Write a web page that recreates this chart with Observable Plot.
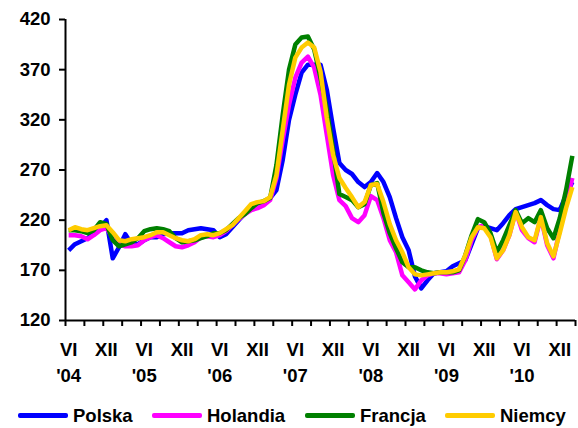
<!DOCTYPE html>
<html>
<head>
<meta charset="utf-8">
<script src="https://cdn.jsdelivr.net/npm/d3@7"></script>
<script src="https://cdn.jsdelivr.net/npm/@observablehq/plot@0.6"></script>
<style>
  html, body { margin: 0; padding: 0; background: #fff; }
  body { width: 578px; height: 428px; overflow: hidden; font-family: "Liberation Sans", Arial, sans-serif; }
  #legend { position: relative; height: 33px; margin-top: 4px; font-weight: bold; font-size: 18.5px; color: #000; }
  #legend .item { position: absolute; top: 0; height: 33px; display: flex; align-items: center; gap: 5px; white-space: nowrap; }
  #legend .sw { width: 50px; height: 4.5px; border-radius: 2px; }
</style>
</head>
<body>
<div id="chart"></div>
<div id="legend"></div>
<script>
// Monthly index 0 = June 2004 ... 80 = February 2011
const seriesNames = ["Polska", "Holandia", "Francja", "Niemcy"];
const seriesColors = ["#0000FF", "#FF00FF", "#008000", "#FFCC00"];

const polska = [190,196,199,202,207,213,220,182,193,206,196,196,200,203,203,206,207,207,207,210,
  211,212,211,210,203,206,213,220,227,233,236,237,242,250,280,320,345,367,375,375,
  375,350,312,277,270,266,258,253,258,267,258,243,222,203,190,164,152,160,167,168,
  169,174,177,180,196,212,214,212,210,217,225,231,233,235,237,240,235,231,230,245,258];
const holandia = [205,205,204,201,205,210,212,203,196,194,194,195,200,203,205,202,198,194,193,195,
  198,203,204,203,205,209,215,221,226,230,232,235,240,262,300,335,362,377,383,372,
  345,305,265,240,234,222,218,225,244,240,222,200,188,165,158,151,160,165,167,167,
  166,167,168,180,200,213,215,205,181,190,205,229,210,202,198,223,195,182,210,237,262];
const francja = [210,210,209,207,210,218,216,200,194,196,198,202,209,211,212,211,209,202,198,199,
  200,202,204,207,207,210,216,222,226,232,237,239,242,275,325,370,395,402,403,390,
  362,330,290,246,243,240,233,236,255,257,227,207,192,178,173,173,170,168,167,168,
  168,168,170,185,205,221,218,207,188,200,215,230,217,222,218,230,212,202,222,250,284];
const niemcy = [210,213,211,210,212,214,215,208,200,199,201,202,203,205,208,208,205,202,200,199,
  201,205,206,205,207,211,215,222,229,236,238,239,243,265,310,355,382,392,397,392,
  368,322,285,262,252,243,233,238,255,256,238,216,200,188,173,166,165,166,167,168,
  168,169,171,185,203,213,212,203,182,190,205,228,213,203,200,223,197,184,207,232,253];

const yTicks = [120, 170, 220, 270, 320, 370, 420];
const monthLabels = ["VI","XII","VI","XII","VI","XII","VI","XII","VI","XII","VI","XII","VI","XII"];
const yearLabels = ["'04","","'05","","'06","","'07","","'08","","'09","","'10",""];

const allValues = [polska, holandia, francja, niemcy];
const rows = [];
seriesNames.forEach((name, s) => {
  allValues[s].forEach((v, i) => rows.push({series: name, i, value: v}));
});

const labelPos = monthLabels.map((_, k) => k * 6);
const tickPos = d3.range(0, 28).map(k => k * 3 - 0.5);

const fontStyle = {fontSize: 18.5, fontWeight: "bold"};

const chart = Plot.plot({
  width: 578,
  height: 395,
  marginTop: 19,
  marginBottom: 75,
  marginLeft: 65,
  marginRight: 3,
  style: {fontFamily: "Liberation Sans, Arial, sans-serif", fontSize: "18.5px", fontWeight: "bold", color: "#000", background: "#fff"},
  x: {domain: [-0.5, 80.5]},
  y: {domain: [120, 420]},
  color: {domain: seriesNames, range: seriesColors},
  marks: [
    Plot.axisY(yTicks, {tickSize: 6, tickPadding: 9, strokeWidth: 2, label: null, ...fontStyle}),
    Plot.axisX(tickPos, {tickSize: 6, strokeWidth: 2, tickFormat: () => "", label: null}),
    Plot.axisX(labelPos, {tickSize: 0, tickPadding: 22, tickFormat: d => monthLabels[d / 6], label: null, ...fontStyle}),
    Plot.axisX(labelPos, {tickSize: 0, tickPadding: 48, tickFormat: d => yearLabels[d / 6], label: null, ...fontStyle}),
    Plot.line(rows, {x: "i", y: "value", z: "series", stroke: "series", strokeWidth: 4.5, strokeLinejoin: "round", strokeLinecap: "butt"}),
    Plot.ruleX([-0.5], {stroke: "#000", strokeWidth: 2}),
    Plot.ruleY([120], {stroke: "#000", strokeWidth: 2})
  ]
});
document.getElementById("chart").appendChild(chart);

const legendLeft = [18, 152, 305, 445];
const legend = document.getElementById("legend");
seriesNames.forEach((name, s) => {
  const item = document.createElement("div");
  item.className = "item";
  item.style.left = legendLeft[s] + "px";
  const sw = document.createElement("span");
  sw.className = "sw";
  sw.style.background = seriesColors[s];
  const t = document.createElement("span");
  t.textContent = name;
  item.appendChild(sw);
  item.appendChild(t);
  legend.appendChild(item);
});
</script>
</body>
</html>
